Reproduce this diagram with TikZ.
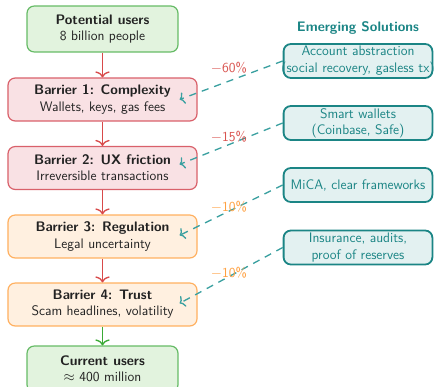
\documentclass[tikz,border=0pt]{standalone}
\usetikzlibrary{arrows.meta}
\renewcommand{\familydefault}{\sfdefault}
\definecolor{gfill}{HTML}{E2F3DE}
\definecolor{gdraw}{HTML}{66BB66}
\definecolor{garrow}{HTML}{3AAA35}
\definecolor{rfill}{HTML}{F9E1E4}
\definecolor{rdraw}{HTML}{D9606A}
\definecolor{rarrow}{HTML}{D84A4A}
\definecolor{rtext}{HTML}{D9534F}
\definecolor{ofill}{HTML}{FFF0E0}
\definecolor{odraw}{HTML}{FFB060}
\definecolor{otext}{HTML}{FFA040}
\definecolor{tfill}{HTML}{E3F1F1}
\definecolor{tdraw}{HTML}{1B8585}
\definecolor{tline}{HTML}{3AA0A0}
\definecolor{boxtext}{HTML}{222222}
\begin{document}
\begin{tikzpicture}[x=0.8333pt,y=-0.8333pt,
  every node/.style={font=\fontsize{11.5}{13.5}\selectfont},
  base/.style={rounded corners=6pt, align=center, text=boxtext, line width=1pt, inner sep=2pt},
  greenbox/.style={base, fill=gfill, draw=gdraw, minimum width=125.8pt, minimum height=38.3pt},
  redbox/.style={base, fill=rfill, draw=rdraw, minimum width=157.5pt, minimum height=35.8pt},
  orangebox/.style={base, fill=ofill, draw=odraw, minimum width=157.5pt, minimum height=35.8pt},
  solbox/.style={rounded corners=6pt, align=center, text=tdraw, fill=tfill, draw=tdraw, line width=1.5pt, minimum width=124pt, minimum height=28.3pt, inner xsep=2pt, inner ysep=0pt},
  flowred/.style={draw=rarrow, line width=1.1pt, -{To[length=5pt,width=12pt]}},
  flowgreen/.style={draw=garrow, line width=1.1pt, -{To[length=5pt,width=12pt]}},
  solarrow/.style={draw=tline, line width=1.1pt, dash pattern=on 6pt off 5pt, -{To[length=4pt,width=10pt]}},
  redlabel/.style={text=rtext},
  orangelabel/.style={text=otext}]
\useasboundingbox (0,0) rectangle (438,387);
\node[greenbox] (pot) at (102.5,29) {\textbf{Potential users}\\8 billion people};
\node[redbox] (b1) at (102.5,99.5) {\textbf{Barrier 1: Complexity}\\Wallets, keys, gas fees};
\node[redbox] (b2) at (102.5,168) {\textbf{Barrier 2: UX friction}\\Irreversible transactions};
\node[orangebox] (b3) at (102.5,236.5) {\textbf{Barrier 3: Regulation}\\Legal uncertainty};
\node[orangebox] (b4) at (102.5,304.5) {\textbf{Barrier 4: Trust}\\Scam headlines, volatility};
\node[greenbox] (cur) at (102.5,369) {\textbf{Current users}\\$\approx$ 400 million};
\draw[flowred] (pot) -- (b1);
\draw[flowred] (b1) -- (b2);
\draw[flowred] (b2) -- (b3);
\draw[flowred] (b3) -- (b4);
\draw[flowgreen] (b4) -- (cur);
\node[text=tdraw, font=\fontsize{11.5}{13.5}\selectfont\bfseries] (title) at (358,28) {Emerging Solutions};
\node[solbox, inner xsep=-6pt, minimum width=0pt, text width=136pt] (s1) at (358,61) {Account abstraction\\(social recovery, gasless tx)};
\node[solbox] (s2) at (358,123) {Smart wallets\\(Coinbase, Safe)};
\node[solbox] (s3) at (358,185) {MiCA, clear frameworks};
\node[solbox] (s4) at (358,247.5) {Insurance, audits,\\proof of reserves};
\coordinate (t1) at ([xshift=-15pt,yshift=0pt]b1.east);
\coordinate (t2) at ([xshift=-15pt,yshift=3pt]b2.east);
\coordinate (t3) at ([xshift=-15pt,yshift=1pt]b3.east);
\coordinate (t4) at ([xshift=-15pt,yshift=1pt]b4.east);
\draw[solarrow] (s1.west) -- (t1);
\draw[solarrow] (s2.west) -- (t2);
\draw[solarrow] (s3.west) -- (t3);
\draw[solarrow] (s4.west) -- (t4);
\node[redlabel] (l1) at ([xshift=26pt,yshift=26pt]b1.east) {$-$60\%};
\node[redlabel] (l2) at ([xshift=26pt,yshift=26pt]b2.east) {$-$15\%};
\node[orangelabel] (l3) at ([xshift=26pt,yshift=25pt]b3.east) {$-$10\%};
\node[orangelabel] (l4) at ([xshift=26pt,yshift=26pt]b4.east) {$-$10\%};
\end{tikzpicture}
\end{document}
